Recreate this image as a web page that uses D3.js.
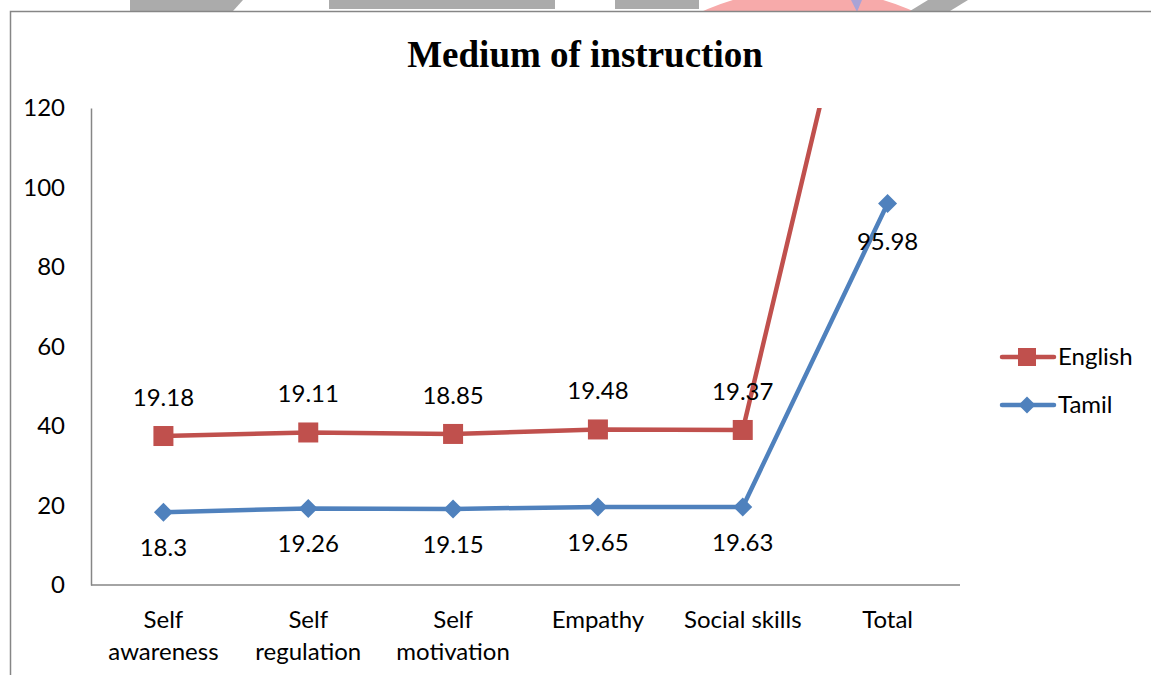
<!DOCTYPE html>
<html>
<head>
<meta charset="utf-8">
<script src="https://cdn.jsdelivr.net/npm/d3@7"></script>
<style>
  html, body { margin: 0; padding: 0; background: #fff; }
  svg { display: block; }
</style>
</head>
<body>
<svg id="chart" width="1151" height="675"></svg>
<script>
const title = "Medium of instruction";
const categories = ["Self awareness", "Self regulation", "Self motivation", "Empathy", "Social skills", "Total"];
const seriesNames = ["English", "Tamil"];
const tamil = [18.3, 19.26, 19.15, 19.65, 19.63, 95.98];
const english = [19.18, 19.11, 18.85, 19.48, 19.37, 95.99];
const yTicks = [0, 20, 40, 60, 80, 100, 120];

const W = 1151, H = 675;
const svg = d3.select("#chart");
const font = "Lato, 'Open Sans', sans-serif";
const fs = 24;
const red = "#C0504D", blue = "#4F81BD";

// decorative page fragments above the chart frame
const deco = svg.append("g");
deco.append("circle").attr("cx", 808).attr("cy", 251).attr("r", 262).attr("fill", "#F7AAAA");
deco.append("path").attr("d", "M851,0 L862,0 L857,12 Z").attr("fill", "#A9A3D6");
deco.append("path").attr("d", "M130,0 L243,0 L233,11 L130,11 Z").attr("fill", "#ABABAB");
deco.append("rect").attr("x", 329).attr("y", 0).attr("width", 226).attr("height", 9).attr("fill", "#ABABAB");
deco.append("rect").attr("x", 615).attr("y", 0).attr("width", 84).attr("height", 9).attr("fill", "#ABABAB");
deco.append("path").attr("d", "M928,0 L968,0 L950,11 L910,11 Z").attr("fill", "#ABABAB");

// chart frame
svg.append("rect").attr("x", 10.5).attr("y", 11.5).attr("width", W).attr("height", H)
  .attr("fill", "#fff").attr("stroke", "#868686").attr("stroke-width", 1.5);

const plot = { left: 91, right: 960, top: 108, bottom: 585 };

const x = d3.scalePoint().domain(categories).range([plot.left, plot.right]).padding(0.5);
const y = d3.scaleLinear().domain([0, 120]).range([plot.bottom, plot.top]);

// title
svg.append("text").attr("x", 585).attr("y", 67).attr("text-anchor", "middle")
  .attr("font-family", "'Liberation Serif', 'Times New Roman', serif")
  .attr("font-weight", "bold").attr("font-size", 37).attr("fill", "#000").text(title);

// axes
const yAxis = d3.axisLeft(y).tickValues(yTicks).tickSize(0).tickPadding(26);
const gy = svg.append("g").attr("transform", `translate(${plot.left},0)`).call(yAxis);
gy.select(".domain").attr("stroke", "#868686").attr("stroke-width", 1.5);
gy.selectAll("text").attr("font-family", font).attr("font-size", fs).attr("fill", "#000");

const xAxis = d3.axisBottom(x).tickSize(0).tickFormat(() => "");
const gx = svg.append("g").attr("transform", `translate(0,${plot.bottom})`).call(xAxis);
gx.select(".domain").attr("stroke", "#868686").attr("stroke-width", 1.5)
  .attr("d", `M${plot.left},0H${plot.right}`);

// category labels (wrapped)
const catG = svg.append("g");
categories.forEach(c => {
  const words = c === "Social skills" ? [c] : c.split(" ");
  const t = catG.append("text").attr("x", x(c)).attr("y", 628).attr("text-anchor", "middle")
    .attr("font-family", font).attr("font-size", fs).attr("fill", "#000");
  words.forEach((w, i) => {
    t.append("tspan").attr("x", x(c)).attr("dy", i === 0 ? 0 : 32).text(w);
  });
});

// stacked values
const stackedEnglish = english.map((v, i) => v + tamil[i]);

svg.append("clipPath").attr("id", "clip").append("rect")
  .attr("x", plot.left).attr("y", plot.top)
  .attr("width", plot.right - plot.left + 20).attr("height", plot.bottom - plot.top);

const line = d3.line().x((d, i) => x(categories[i])).y(d => y(d));
const plotG = svg.append("g").attr("clip-path", "url(#clip)");

plotG.append("path").datum(tamil).attr("d", line).attr("fill", "none")
  .attr("stroke", blue).attr("stroke-width", 4.5).attr("stroke-linejoin", "round");
plotG.append("path").datum(stackedEnglish).attr("d", line).attr("fill", "none")
  .attr("stroke", red).attr("stroke-width", 4.5).attr("stroke-linejoin", "round");

const diamond = s => `M0,${-s}L${s},0L0,${s}L${-s},0Z`;

plotG.selectAll(".tm").data(tamil).join("path")
  .attr("transform", (d, i) => `translate(${x(categories[i])},${y(d)})`)
  .attr("d", diamond(9.5)).attr("fill", blue);
plotG.selectAll(".en").data(stackedEnglish).join("rect")
  .attr("x", (d, i) => x(categories[i]) - 10).attr("y", d => y(d) - 10)
  .attr("width", 20).attr("height", 20).attr("fill", red);

// data labels
const labG = svg.append("g").attr("font-family", font).attr("font-size", fs)
  .attr("fill", "#000").attr("text-anchor", "middle");
tamil.forEach((v, i) => {
  labG.append("text").attr("x", x(categories[i])).attr("y", y(v) + (i === 5 ? 47 : 44)).text(v);
});
english.forEach((v, i) => {
  const yy = y(stackedEnglish[i]) - 30;
  if (yy > plot.top) labG.append("text").attr("x", x(categories[i])).attr("y", yy).text(v);
});

// legend
const legend = svg.append("g");
[["English", red, "square", 357], ["Tamil", blue, "diamond", 405]].forEach(([name, col, shape, ly]) => {
  legend.append("line").attr("x1", 1002).attr("x2", 1054).attr("y1", ly).attr("y2", ly)
    .attr("stroke", col).attr("stroke-width", 4.5).attr("stroke-linecap", "round");
  if (shape === "square") {
    legend.append("rect").attr("x", 1018).attr("y", ly - 9).attr("width", 18).attr("height", 18).attr("fill", col);
  } else {
    legend.append("path").attr("transform", `translate(1027,${ly})`).attr("d", diamond(8.5)).attr("fill", col);
  }
  legend.append("text").attr("x", 1058).attr("y", ly + 8).attr("font-family", font)
    .attr("font-size", fs).attr("fill", "#000").text(name);
});
</script>
</body>
</html>
